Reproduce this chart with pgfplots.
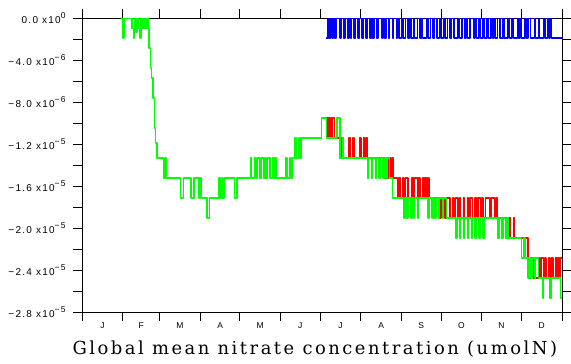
\documentclass[border=0pt]{standalone}
\usepackage{pgfplots}
\pgfplotsset{compat=1.18}
\usepackage{fontspec}
\setmainfont{Liberation Sans}
\newfontfamily\tickfont[LetterSpace=13]{Liberation Sans}
\newfontfamily\labelfont[LetterSpace=14]{DejaVu Serif}
\newcommand\ex[1]{\raisebox{4.5bp}{\fontsize{8.5}{9}\selectfont #1}}
\definecolor{sgreen}{RGB}{0,255,0}
\definecolor{sred}{RGB}{255,0,0}
\definecolor{sblue}{RGB}{0,0,255}
\begin{document}
\begin{tikzpicture}[x=1bp,y=1bp]
\useasboundingbox (-82,-51) rectangle (489,312);
\begin{axis}[
  at={(0,0)}, anchor=south west,
  width=480bp, height=294bp, scale only axis,
  xmin=0, xmax=365, ymin=-28, ymax=0,
  axis line style={line width=1pt},
  tick align=outside,
  major tick length=9bp,
  tick style={line width=0.9pt, black},
  xtick={0,31,59,90,120,151,181,212,243,273,304,334,365},
  xticklabels={},
  extra x ticks={15.5,45,74.5,105,135.5,166,196.5,227.5,258,288.5,319,349.5},
  extra x tick labels={J,F,M,A,M,J,J,A,S,O,N,D},
  extra x tick style={major tick length=0pt, ticklabel style={font=\fontsize{8.5}{9}\selectfont, yshift=-7bp}},
  ytick={-28,-26,...,0},
  yticklabels={{−2.8 x10\ex{−5}},,{−2.4 x10\ex{−5}},,{−2.0 x10\ex{−5}},,{−1.6 x10\ex{−5}},,{−1.2 x10\ex{−5}},,{−8.0 x10\ex{−6}},,{−4.0 x10\ex{−6}},,{0.0 x10\ex{0}}},
  yticklabel style={font=\tickfont\fontsize{10}{11}\selectfont, anchor=east, xshift=-4bp},
  xlabel={Global mean nitrate concentration (umolN)},
  xlabel style={font=\labelfont\fontsize{18}{20}\selectfont, at={(axis description cs:0.485,0)}, anchor=base, yshift=-42bp},
  every axis plot/.append style={const plot, mark=none, line width=1.5pt, line join=round, line cap=round},
]
% blue series
\addplot[draw=sblue] coordinates {
(186,-1.9)(187,0)(188,-1.9)(189,0)(190,-1.9)(191,0)(192,-1.9)(193,0)(196,-1.9)(197,0)(199,-1.9)(200,0)(202,-1.9)(203,0)(204,-1.9)(205,0)(207,-1.9)(208,0)(210,-1.9)(211,0)(213,-1.9)(214,0)(216,-1.9)(217,0)(219,-1.9)(220,0)(221,-1.9)(222,0)(224,-1.9)(225,0)(228,-1.9)(229,0)(230,-1.9)(231,0)(233,-1.9)(234,0)(236,-1.9)(237,0)(239,-1.9)(240,0)(241,-1.9)(243,0)(244,-1.9)(246,0)(248,-1.9)(249,0)(250,-1.9)(252,0)(253,-1.9)(255,0)(257,-1.9)(258,0)(259,-1.9)(262,0)(263,-1.9)(265,0)(267,-1.9)(268,0)(270,-1.9)(272,0)(273,-1.9)(275,0)(276,-1.9)(278,0)(280,-1.9)(281,0)(283,-1.9)(286,0)(287,-1.9)(289,0)(291,-1.9)(292,0)(293,-1.9)(295,0)(298,-1.9)(299,0)(300,-1.9)(302,0)(303,-1.9)(305,0)(306,-1.9)(308,0)(309,-1.9)(311,0)(312,-1.9)(313,0)(314,-1.9)(316,0)(318,-1.9)(320,0)(321,-1.9)(324,0)(325,-1.9)(327,0)(328,-1.9)(331,0)(332,-1.9)(333,0)(334,-1.9)(337,0)(338,-1.9)(339,0)(341,-1.9)(344,0)(345,-1.9)(347,0)(348,-1.9)(351,0)(352,-1.9)(354,0)(355,-1.9)(356,0)(357,-1.9)(365,-1.9)
};
% red series
\addplot[draw=sred] coordinates {
(186,-9.52)(187,-11.43)(188,-9.52)(189,-11.43)(190,-9.52)(192,-11.43)(196,-13.33)(197,-11.43)(199,-13.33)
(203,-11.43)(204,-13.33)(206,-11.43)(207,-13.33)(211,-11.43)(212,-13.33)(214,-11.43)(215,-13.33)(216,-11.43)(217,-13.33)
(230,-15.24)(231,-13.33)(232,-15.24)(233,-13.33)(235,-15.24)(236,-13.33)(237,-15.24)
(240,-17.14)(241,-15.24)(242,-17.14)(244,-15.24)(245,-17.14)(246,-15.24)(248,-17.14)(251,-15.24)(252,-17.14)(253,-15.24)(255,-17.14)(256,-15.24)(257,-17.14)(259,-15.24)(260,-17.14)(261,-15.24)(262,-17.14)(263,-15.24)(264,-17.14)
(272,-19.05)(273,-17.14)(276,-19.05)(277,-17.14)(280,-19.05)(282,-17.14)(283,-19.05)(284,-17.14)(286,-19.05)(287,-17.14)(288,-19.05)(290,-17.14)(291,-19.05)(293,-17.14)(294,-19.05)(295,-17.14)(297,-19.05)(299,-17.14)(300,-19.05)(301,-17.14)(303,-19.05)(304,-17.14)(305,-19.05)(307,-17.14)(310,-19.05)(311,-17.14)(314,-19.05)(315,-17.14)(316,-19.05)
(324,-20.95)(325,-19.05)(326,-20.95)(328,-19.05)(329,-20.95)
(339,-22.86)(340,-24.76)(341,-22.86)(343,-24.76)(344,-22.86)(345,-24.76)(347,-22.86)(348,-24.76)(349,-22.86)(351,-24.76)(352,-22.86)(353,-24.76)(355,-22.86)(356,-24.76)(357,-22.86)(358,-24.76)(360,-22.86)(361,-24.76)(362,-22.86)(363,-24.76)(364,-22.86)(365,-22.86)
};
% green series
\addplot[draw=sgreen] coordinates {
(30,0)(31,-1.90)(32,0)(38,-1.0)(39,-1.90)(40,0)(41,-1.4)(42,0)(43,-1.0)(44,-1.90)(45,0)(46,-1.0)(47,0)(48,-1.0)(49,0)(50,-1.0)(51,-2.86)(52,-4.76)(53,-5.71)(54,-7.62)(55,-10.48)(56,-11.90)(57,-13.33)(62,-15.24)(63,-13.33)(64,-15.24)
(75,-17.14)(77,-15.24)(83,-17.14)(85,-15.24)(89,-17.14)(90,-15.24)(91,-17.14)(95,-19.05)(97,-17.14)(104,-15.24)(105,-17.14)(106,-15.24)(107,-17.14)(108,-15.24)(116,-17.14)(118,-15.24)
(128,-13.33)(129,-15.24)(131,-13.33)(132,-15.24)(133,-13.33)(135,-15.24)(136,-13.33)(138,-15.24)(139,-13.33)(140,-15.24)(141,-13.33)(143,-15.24)(145,-13.33)(146,-15.24)(147,-13.33)(148,-15.24)
(155,-13.33)(156,-15.24)(158,-13.33)(159,-15.24)(160,-13.33)(162,-11.43)(163,-13.33)(165,-11.43)(166,-13.33)(167,-11.43)
(182,-9.52)(186,-11.43)(194,-9.52)(196,-13.33)(198,-11.43)(199,-13.33)
(217,-15.24)(218,-13.33)(220,-15.24)(221,-13.33)(223,-15.24)(224,-13.33)(226,-15.24)(227,-13.33)(229,-15.24)(230,-13.33)(231,-15.24)(232,-13.33)(234,-15.24)(236,-17.14)
(245,-19.05)(246,-17.14)(247,-19.05)(248,-17.14)(250,-19.05)(251,-17.14)(252,-19.05)(253,-17.14)(255,-19.05)(256,-17.14)
(263,-19.05)(264,-17.14)(266,-19.05)(267,-17.14)(268,-19.05)(269,-17.14)(271,-19.05)(272,-17.14)(274,-19.05)(275,-17.14)(277,-19.05)
(284,-20.95)(285,-19.05)(287,-20.95)(288,-19.05)(290,-20.95)(291,-19.05)(293,-20.95)(294,-19.05)(296,-20.95)(297,-19.05)(299,-20.95)(300,-19.05)(302,-20.95)(303,-19.05)(305,-20.95)(306,-19.05)
(316,-20.95)(317,-19.05)(319,-20.95)(320,-19.05)(322,-20.95)(323,-19.05)(324,-20.95)
(334,-22.86)(336,-20.95)(337,-22.86)(339,-24.76)(340,-22.86)(341,-24.76)(342,-22.86)(344,-24.76)(345,-22.86)(347,-24.76)
(350,-26.67)(351,-24.76)(356,-26.67)(357,-24.76)(364,-26.67)(365,-26.67)
};
\end{axis}
\end{tikzpicture}
\end{document}
